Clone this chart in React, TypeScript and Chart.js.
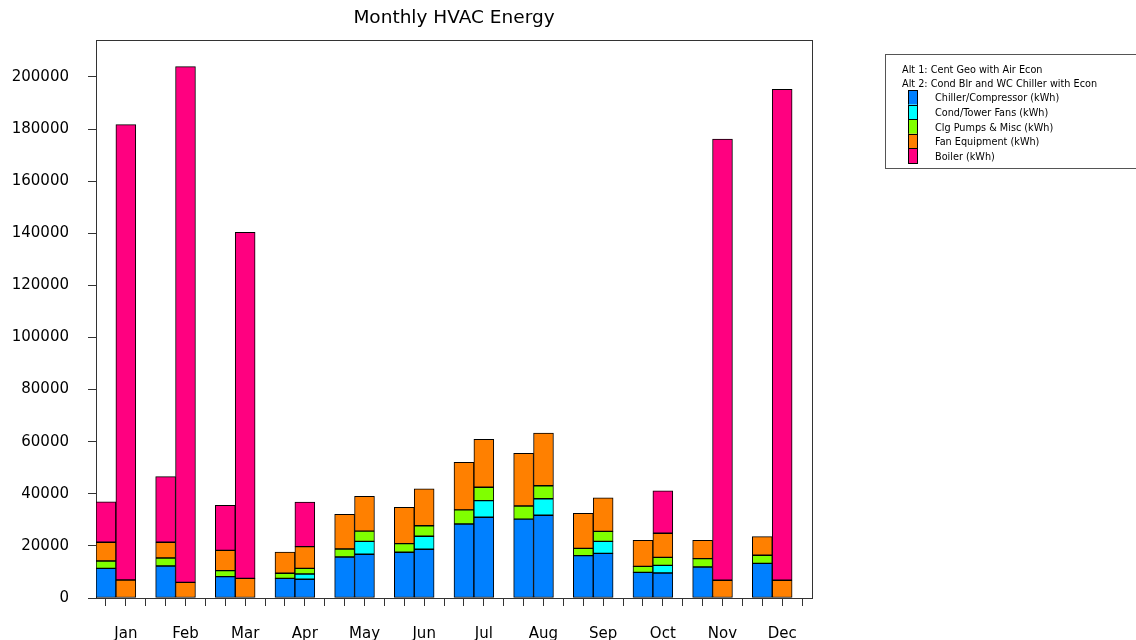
import React, { useEffect, useRef } from "react";
import { Chart, registerables } from "chart.js";

Chart.register(...registerables);

const months = ["Jan", "Feb", "Mar", "Apr", "May", "Jun", "Jul", "Aug", "Sep", "Oct", "Nov", "Dec"];

const seriesNames = [
  "Chiller/Compressor (kWh)",
  "Cond/Tower Fans (kWh)",
  "Clg Pumps & Misc (kWh)",
  "Fan Equipment (kWh)",
  "Boiler (kWh)",
];
const seriesColors = ["#0080FF", "#00FFFF", "#80FF00", "#FF8000", "#FF0080"];
const altNames = ["Alt 1: Cent Geo with Air Econ", "Alt 2: Cond Blr and WC Chiller with Econ"];

// Alt 1: Cent Geo with Air Econ
const alt1Chiller = [11400, 12300, 8200, 7550, 15750, 17550, 28400, 30300, 16250, 9850, 11900, 13300];
const alt1CondFans = [0, 0, 0, 0, 0, 0, 0, 0, 0, 0, 0, 0];
const alt1Pumps = [2800, 3050, 2300, 1950, 3050, 3300, 5400, 5000, 2800, 2300, 3200, 3100];
const alt1Fans = [7200, 6050, 7800, 8150, 13300, 13950, 18300, 20250, 13450, 10000, 7050, 7150];
const alt1Boiler = [15500, 25200, 17300, 0, 0, 0, 0, 0, 0, 0, 0, 0];

// Alt 2: Cond Blr and WC Chiller with Econ
const alt2Chiller = [0, 0, 0, 7200, 16800, 18700, 31000, 31750, 17150, 9600, 0, 0];
const alt2CondFans = [0, 0, 0, 2000, 4950, 5000, 6350, 6350, 4600, 2950, 0, 0];
const alt2Pumps = [0, 0, 0, 2200, 3950, 4050, 5150, 5000, 3850, 3050, 0, 0];
const alt2Fans = [6900, 6000, 7550, 8300, 13300, 14200, 18400, 20250, 12900, 9250, 6800, 6800];
const alt2Boiler = [174800, 198000, 132850, 17150, 0, 0, 0, 0, 0, 16250, 169400, 188500];

const yTickStep = 20000;

const alt1 = [alt1Chiller, alt1CondFans, alt1Pumps, alt1Fans, alt1Boiler];
const alt2 = [alt2Chiller, alt2CondFans, alt2Pumps, alt2Fans, alt2Boiler];

const FONT = "'DejaVu Sans', 'Liberation Sans', Arial, sans-serif";

export default function App() {
  const canvasRef = useRef<HTMLCanvasElement | null>(null);

  useEffect(() => {
    if (!canvasRef.current) return;
    const nz = (v: number) => (v === 0 ? null : v);
    const labels = months.flatMap((m) => ["", m, ""]);
    const datasets = seriesNames.map((name, s) => ({
      label: name,
      data: months.flatMap((_, i) => [nz(alt1[s][i]), nz(alt2[s][i]), null]),
      backgroundColor: seriesColors[s],
      borderColor: "#000000",
      borderWidth: 1,
      borderSkipped: false as const,
      barPercentage: 1,
      categoryPercentage: 1,
    }));

    const totals = months.flatMap((_, i) => [
      alt1.reduce((a, arr) => a + arr[i], 0),
      alt2.reduce((a, arr) => a + arr[i], 0),
    ]);
    const yMax = Math.max(...totals) * 1.05;

    const decor = {
      id: "decor",
      beforeDatasetsDraw(chart: any) {
        const ctx = chart.ctx;
        const a = chart.chartArea;
        ctx.save();
        ctx.strokeStyle = "#333333";
        ctx.lineWidth = 1;
        ctx.strokeRect(Math.round(a.left) + 0.5, Math.round(a.top) + 0.5, Math.round(a.right - a.left), Math.round(a.bottom - a.top));
        ctx.restore();
      },
      afterDraw(chart: any) {
        const ctx = chart.ctx;
        const a = chart.chartArea;
        ctx.save();
        // title
        ctx.fillStyle = "#000";
        ctx.font = `18.5px ${FONT}`;
        ctx.textAlign = "center";
        ctx.textBaseline = "middle";
        ctx.fillText("Monthly HVAC Energy", (a.left + a.right) / 2, 18);

        // legend box
        ctx.strokeStyle = "#555555";
        ctx.lineWidth = 1;
        ctx.strokeRect(885.5, 54.5, 270, 114);
        ctx.font = `9.7px ${FONT}`;
        ctx.textAlign = "left";
        ctx.fillText(altNames[0], 902, 70);
        ctx.fillText(altNames[1], 902, 84);
        const segH = 14.6;
        const top0 = 90;
        seriesNames.forEach((name, i) => {
          const y = top0 + i * segH;
          ctx.fillStyle = seriesColors[i];
          ctx.fillRect(908, y, 9, segH);
          ctx.strokeStyle = "#000";
          ctx.strokeRect(908.5, Math.round(y) + 0.5, 9, Math.round(segH));
          ctx.fillStyle = "#000";
          ctx.fillText(name, 935, y + segH / 2 + 1.5);
        });
        ctx.restore();
      },
    };

    const chart = new Chart(canvasRef.current, {
      type: "bar",
      data: { labels, datasets },
      plugins: [decor],
      options: {
        responsive: false,
        animation: false,
        layout: { padding: { top: 40, right: 324, left: 0, bottom: 0 } },
        plugins: {
          legend: { display: false },
          title: { display: false },
          tooltip: { enabled: false },
        },
        scales: {
          x: {
            stacked: true,
            offset: true,
            border: { display: false },
            grid: {
              offset: false,
              drawOnChartArea: false,
              drawTicks: true,
              tickLength: 8,
              color: "#333333",
              lineWidth: 1,
            },
            ticks: {
              autoSkip: false,
              maxRotation: 0,
              minRotation: 0,
              padding: 19,
              color: "#000",
              font: { family: FONT, size: 15 },
            },
            afterFit: (s: any) => {
              s.height = 42;
            },
          },
          y: {
            stacked: true,
            min: 0,
            max: yMax,
            border: { display: false },
            grid: {
              drawOnChartArea: false,
              drawTicks: true,
              tickLength: 8,
              color: "#333333",
              lineWidth: 1,
            },
            ticks: {
              padding: 19,
              color: "#000",
              font: { family: FONT, size: 15 },
              callback: (v: any) => String(v),
            },
            afterBuildTicks: (s: any) => {
              const t: any[] = [];
              for (let v = 0; v <= s.max + 1e-6; v += yTickStep) t.push({ value: v });
              s.ticks = t;
            },
            afterFit: (s: any) => {
              s.width = 96;
            },
          },
        },
      },
    });
    return () => chart.destroy();
  }, []);

  return (
    <div style={{ position: "fixed", left: 0, top: 0, width: 1136, height: 640, background: "#fff" }}>
      <canvas ref={canvasRef} width={1136} height={640} style={{ display: "block" }} />
    </div>
  );
}
